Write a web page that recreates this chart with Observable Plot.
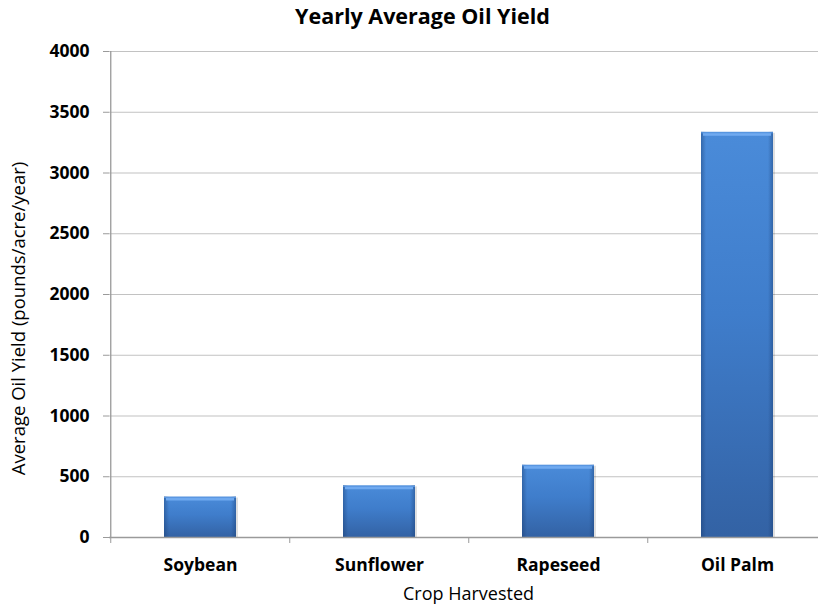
<!DOCTYPE html>
<html>
<head>
<meta charset="utf-8">
<script src="https://cdn.jsdelivr.net/npm/d3@7"></script>
<script src="https://cdn.jsdelivr.net/npm/@observablehq/plot@0.6"></script>
<style>
  html, body { margin: 0; padding: 0; background: #fff; overflow: hidden; }
  #chart { width: 818px; height: 607px; overflow: hidden; }
</style>
</head>
<body>
<div id="chart"></div>
<script>
const crops = ["Soybean", "Sunflower", "Rapeseed", "Oil Palm"];
const yields = [333, 425, 595, 3335];
const yTicks = [0, 500, 1000, 1500, 2000, 2500, 3000, 3500, 4000];
const title = "Yearly Average Oil Yield";
const yLabel = "Average Oil Yield (pounds/acre/year)";
const xLabel = "Crop Harvested";

const data = crops.map((c, i) => ({crop: c, value: yields[i]}));

const W = 818, H = 607;
const mL = 109, mR = -9, mT = 51, mB = 70;
const step = (W - mL - mR) / crops.length;
const font = "'Open Sans', sans-serif";
const axisGray = "#9a9a9a";
const gridGray = "#c2c2c2";

const defs = () => {
  const g = document.createElementNS("http://www.w3.org/2000/svg", "defs");
  g.innerHTML = `
    <linearGradient id="barV" x1="0" y1="0" x2="0" y2="1">
      <stop offset="0" stop-color="#4a8bd9"/>
      <stop offset="0.45" stop-color="#3f7dcb"/>
      <stop offset="1" stop-color="#3362a4"/>
    </linearGradient>
    <linearGradient id="barH" x1="0" y1="0" x2="1" y2="0">
      <stop offset="0" stop-color="#1a3e73" stop-opacity="0.45"/>
      <stop offset="0.07" stop-color="#1a3e73" stop-opacity="0"/>
      <stop offset="0.93" stop-color="#1a3e73" stop-opacity="0"/>
      <stop offset="1" stop-color="#1a3e73" stop-opacity="0.45"/>
    </linearGradient>`;
  return g;
};

const chart = Plot.plot({
  width: W,
  height: H,
  marginLeft: mL,
  marginRight: mR,
  marginTop: mT,
  marginBottom: mB,
  style: {fontFamily: font, background: "#fff", color: "#000", overflow: "visible"},
  x: {domain: crops, paddingInner: 0.6, paddingOuter: 0.3, axis: null},
  y: {domain: [0, 4000], axis: null},
  marks: [
    defs,
    Plot.gridY(yTicks, {stroke: gridGray, strokeOpacity: 1, strokeWidth: 1.2}),
    // shadow
    Plot.barY(data, {x: "crop", y: "value", fill: "#000", fillOpacity: 0.12, dx: 2, dy: 1}),
    Plot.barY(data, {x: "crop", y: "value", fill: "url(#barV)"}),
    Plot.barY(data, {x: "crop", y: "value", fill: "url(#barH)"}),
    Plot.tickY(data, {x: "crop", y: "value", stroke: "#70aaf0", strokeWidth: 3, dy: 2, inset: 2}),
    Plot.tickY(data, {x: "crop", y: "value", stroke: "#5b97e2", strokeWidth: 1, dy: 0.5}),
    // axis lines
    Plot.ruleY([0], {stroke: axisGray, strokeWidth: 1.3}),
    Plot.ruleX([crops[0]], {y1: 0, y2: 4000, dx: -step / 2, stroke: axisGray, strokeWidth: 1.3}),
    // y axis ticks & labels
    Plot.axisY({
      ticks: yTicks, tickSize: 6, tickPadding: 14, tickFormat: d => String(d),
      stroke: axisGray, fill: "#000", fontSize: 17.5, fontWeight: "bold", label: null
    }),
    // x axis tick marks at band boundaries
    Plot.axisX({
      tickSize: 6, dx: -step / 2, tickFormat: () => "", stroke: axisGray, label: null
    }),
    // category labels
    Plot.axisX({
      tickSize: 0, tickPadding: 21, fill: "#000", fontSize: 17.5, fontWeight: "bold", label: null
    }),
    // title
    Plot.text([title], {
      frameAnchor: "top-left", dx: 422 - mL, dy: 17 - mT, textAnchor: "middle",
      lineAnchor: "middle", fontSize: 21.5, fontWeight: "bold", fill: "#000"
    }),
    // y label
    Plot.text([yLabel], {
      frameAnchor: "left", rotate: -90, dx: 19 - mL, dy: 318 - (mT + (H - mB)) / 2,
      textAnchor: "middle", lineAnchor: "middle", fontSize: 18.5, fill: "#000"
    }),
    // x label
    Plot.text([xLabel], {
      frameAnchor: "bottom-left", dx: 468 - mL, dy: 594 - (H - mB), textAnchor: "middle",
      lineAnchor: "middle", fontSize: 18, fill: "#000"
    })
  ]
});

document.getElementById("chart").appendChild(chart);
</script>
</body>
</html>
